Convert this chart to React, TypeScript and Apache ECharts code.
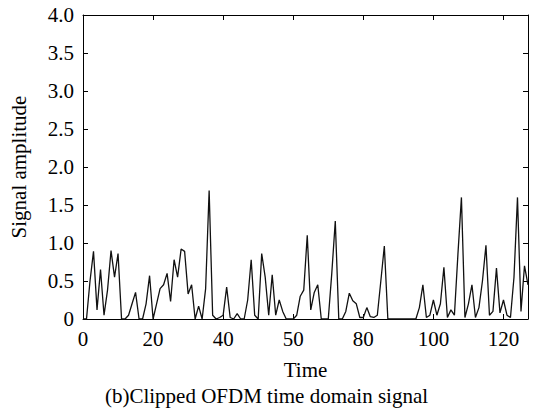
import React, { useEffect, useRef } from "react";
import * as echarts from "echarts";

// Sample index (time) 0..127 and the clipped signal amplitude
const amplitude: number[] = [
  0, 0, 0.5, 0.89, 0.12, 0.65, 0.05, 0.38, 0.9, 0.55,
  0.86, 0, 0, 0.05, 0.2, 0.35, 0, 0, 0.2, 0.57,
  0, 0.2, 0.4, 0.45, 0.6, 0.23, 0.78, 0.55, 0.92, 0.89,
  0.33, 0.45, 0, 0.17, 0, 0.4, 1.69, 0.05, 0, 0.02,
  0.05, 0.42, 0.02, 0, 0.07, 0, 0, 0.25, 0.78, 0.05,
  0, 0.86, 0.55, 0.05, 0.58, 0.05, 0.25, 0.1, 0, 0,
  0, 0.05, 0.3, 0.38, 1.1, 0.12, 0.35, 0.45, 0, 0,
  0, 0.6, 1.29, 0, 0, 0.1, 0.34, 0.24, 0.2, 0.02,
  0.02, 0.15, 0.03, 0.02, 0.05, 0.5, 0.96, 0, 0, 0,
  0, 0, 0, 0, 0, 0, 0.15, 0.45, 0.02, 0.05,
  0.25, 0.05, 0.2, 0.68, 0.02, 0.12, 0.05, 0.85, 1.6, 0.02,
  0.2, 0.45, 0.02, 0.15, 0.5, 0.97, 0.05, 0.1, 0.67, 0.08,
  0.25, 0.05, 0.02, 0.55, 1.6, 0.1, 0.7, 0.45,
];

const xTickValues: number[] = [0, 20, 40, 60, 80, 100, 120];
const xTickLabels: string[] = ["0", "20", "40", "50", "80", "100", "120"];
const yTickLabels: string[] = ["0", "0.5", "1.0", "1.5", "2.0", "2.5", "3.0", "3.5", "4.0"];

const xAxisTitle = "Time";
const yAxisTitle = "Signal amplitude";
const caption = "(b)Clipped OFDM time domain signal";

const FONT = "'Liberation Serif', 'Times New Roman', serif";

export default function App() {
  const ref = useRef<HTMLDivElement | null>(null);

  useEffect(() => {
    document.body.style.margin = "0";
    if (!ref.current) return;
    const chart = echarts.init(ref.current, undefined, { renderer: "svg" });

    const data = amplitude.map((v, i) => [i, v]);

    const xLabel = (v: number) => {
      const idx = xTickValues.indexOf(Math.round(v));
      return idx >= 0 && Math.abs(v - xTickValues[idx]) < 1e-6 ? xTickLabels[idx] : "";
    };
    const yLabel = (v: number) => {
      const idx = Math.round(v / 0.5);
      return Math.abs(v - idx * 0.5) < 1e-6 && yTickLabels[idx] !== undefined ? yTickLabels[idx] : "";
    };

    const axisLine = { show: true, onZero: false, lineStyle: { color: "#000", width: 1 } };
    const axisTick = { show: true, inside: true, length: 5, lineStyle: { color: "#000", width: 1 } };

    chart.setOption({
      animation: false,
      backgroundColor: "#fff",
      grid: { left: 80, right: 5, top: 15, bottom: 97, containLabel: false },
      xAxis: [
        {
          type: "value",
          min: 0,
          max: 127,
          interval: 20,
          position: "bottom",
          axisLine,
          axisTick,
          splitLine: { show: false },
          axisLabel: {
            formatter: xLabel,
            color: "#000",
            fontFamily: FONT,
            fontSize: 21,
            margin: 9,
            showMaxLabel: false,
          },
          name: xAxisTitle,
          nameLocation: "middle",
          nameGap: 40,
          nameTextStyle: { color: "#000", fontFamily: FONT, fontSize: 21 },
        },
        {
          type: "value",
          min: 0,
          max: 127,
          interval: 20,
          position: "top",
          axisLine,
          axisTick,
          splitLine: { show: false },
          axisLabel: { show: false },
        },
      ],
      yAxis: [
        {
          type: "value",
          min: 0,
          max: 4,
          interval: 0.5,
          position: "left",
          axisLine,
          axisTick,
          splitLine: { show: false },
          axisLabel: {
            formatter: yLabel,
            color: "#000",
            fontFamily: FONT,
            fontSize: 21,
            margin: 9,
          },
          name: yAxisTitle,
          nameLocation: "middle",
          nameGap: 54,
          nameRotate: 90,
          nameTextStyle: { color: "#000", fontFamily: FONT, fontSize: 21 },
        },
        {
          type: "value",
          min: 0,
          max: 4,
          interval: 0.5,
          position: "right",
          axisLine,
          axisTick,
          splitLine: { show: false },
          axisLabel: { show: false },
        },
      ],
      graphic: [
        {
          type: "text",
          left: "center",
          top: 385,
          style: {
            text: caption,
            fill: "#000",
            font: `21px ${FONT}`,
          },
        },
      ],
      series: [
        {
          type: "line",
          data,
          xAxisIndex: 0,
          yAxisIndex: 0,
          showSymbol: false,
          symbol: "none",
          lineStyle: { color: "#111", width: 1.3 },
          clip: true,
        },
      ],
    });

    return () => chart.dispose();
  }, []);

  return <div ref={ref} style={{ width: 533, height: 416 }} />;
}
